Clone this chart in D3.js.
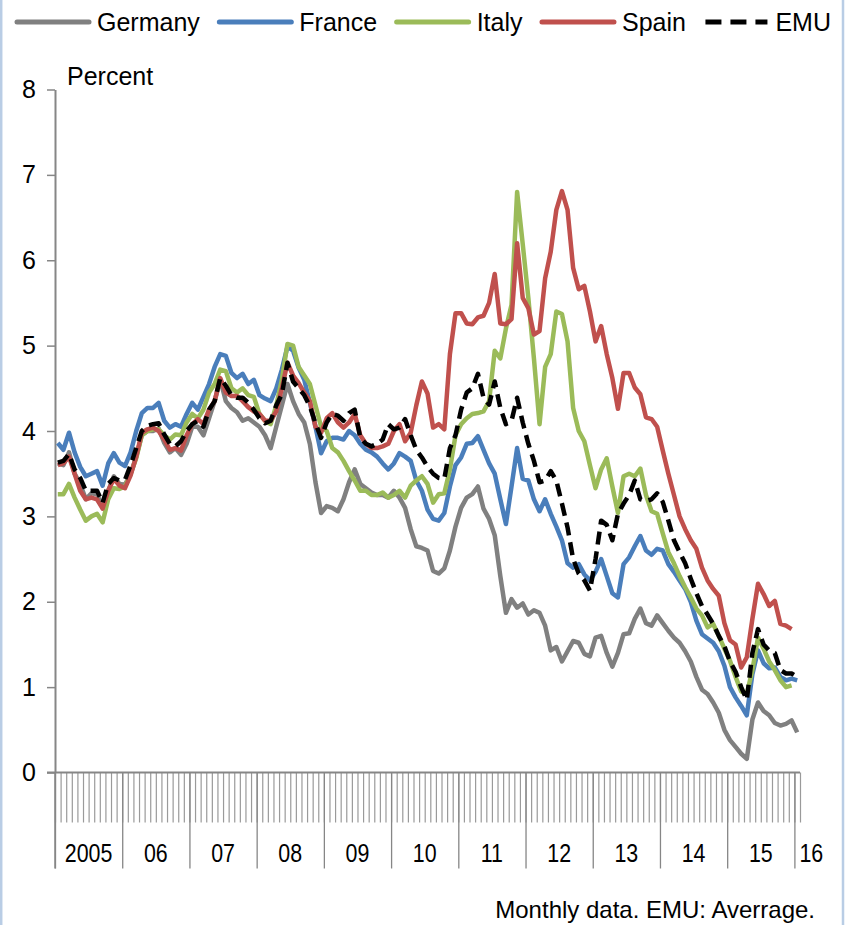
<!DOCTYPE html>
<html lang="en">
<head>
<meta charset="utf-8">
<title>Government bond yields</title>
<style>
  body { margin: 0; background: #ffffff; }
  svg text { font-family: "Liberation Sans", Arial, sans-serif; fill: #000; }
</style>
</head>
<body>
<div id="chart"></div>
<script src="https://d3js.org/d3.v7.min.js"></script>
<script>
var width = 850,
    height = 925;

// category axis: years and how many monthly slots each has
var years = ["2005", "06", "07", "08", "09", "10", "11", "12", "13", "14", "15", "16"];
var yearMonths = [12, 12, 12, 12, 12, 12, 12, 12, 12, 12, 12, 1];
var yTicks = [0, 1, 2, 3, 4, 5, 6, 7, 8];

// monthly values, Jan 2005 onwards
var germany = [
  3.62, 3.6, 3.75, 3.5, 3.38, 3.2, 3.27, 3.26, 3.1, 3.3, 3.47, 3.38,
  3.37, 3.5, 3.7, 3.95, 4.0, 4.0, 4.03, 3.86, 3.75, 3.8, 3.72, 3.85,
  4.05, 4.05, 3.95, 4.15, 4.35, 4.6, 4.35, 4.27, 4.22, 4.12, 4.15, 4.1,
  4.05, 3.95, 3.8, 4.05, 4.3, 4.55, 4.35, 4.2, 4.1, 3.85, 3.4, 3.04,
  3.12, 3.1, 3.06, 3.2, 3.4, 3.55, 3.38, 3.33, 3.28, 3.25, 3.25, 3.22,
  3.3, 3.22, 3.1, 2.85, 2.65, 2.63, 2.6, 2.36, 2.33, 2.39, 2.6, 2.88,
  3.1, 3.22, 3.26, 3.35, 3.09, 2.97, 2.78, 2.3, 1.87, 2.03, 1.93, 1.98,
  1.85, 1.9, 1.87, 1.72, 1.43, 1.47, 1.3, 1.42, 1.54, 1.52, 1.39, 1.36,
  1.58, 1.6, 1.4, 1.24, 1.4, 1.62, 1.63, 1.8, 1.92, 1.75, 1.72, 1.84,
  1.75, 1.66, 1.58, 1.52, 1.42, 1.3, 1.12, 0.97, 0.92, 0.82, 0.7, 0.5,
  0.38, 0.3, 0.22, 0.16, 0.62, 0.82, 0.72, 0.67, 0.58, 0.55, 0.57, 0.61,
  0.47
];
var france = [
  3.86, 3.78, 3.98, 3.75, 3.58, 3.47, 3.5, 3.53, 3.36, 3.62, 3.74, 3.63,
  3.59, 3.75, 4.0, 4.21, 4.27, 4.27, 4.33, 4.12, 4.04, 4.08, 4.05, 4.2,
  4.33, 4.25, 4.4, 4.55, 4.75, 4.9, 4.88, 4.68, 4.62, 4.67, 4.55, 4.6,
  4.42, 4.38, 4.35, 4.5, 4.72, 4.99, 4.94, 4.74, 4.6, 4.33, 4.05, 3.74,
  3.88, 3.92, 3.92, 3.9, 4.0, 3.95, 3.85, 3.78, 3.75, 3.7, 3.62, 3.55,
  3.62, 3.74, 3.7, 3.65, 3.42, 3.3, 3.08, 2.97, 2.95, 3.04, 3.35, 3.6,
  3.69, 3.85, 3.86, 3.94, 3.78, 3.62, 3.5, 3.2, 2.91, 3.35, 3.8, 3.44,
  3.42, 3.2, 3.06, 3.2, 3.03, 2.88, 2.72, 2.45, 2.4, 2.44, 2.32, 2.25,
  2.35, 2.5, 2.3, 2.1, 2.05, 2.44, 2.52, 2.65, 2.77, 2.6, 2.55, 2.62,
  2.6, 2.44, 2.35, 2.25, 2.15, 2.0, 1.78, 1.62, 1.57, 1.52, 1.42, 1.25,
  1.0, 0.88, 0.78, 0.67, 1.15, 1.43, 1.28, 1.22, 1.23, 1.12, 1.08, 1.1,
  1.08
];
var italy = [
  3.26, 3.26, 3.38, 3.22, 3.08, 2.95, 3.0, 3.03, 2.93, 3.2, 3.33, 3.32,
  3.35, 3.5, 3.68, 3.95, 4.0, 4.02, 4.02, 3.95, 3.9, 3.96, 3.95, 4.1,
  4.2, 4.15, 4.25, 4.45, 4.55, 4.72, 4.7, 4.5, 4.45, 4.5, 4.42, 4.4,
  4.2, 4.12, 4.08, 4.3, 4.6, 5.02, 5.0, 4.75, 4.65, 4.55, 4.3, 4.05,
  4.0, 3.8, 3.75, 3.65, 3.53, 3.42, 3.3, 3.3, 3.25, 3.25, 3.28, 3.22,
  3.25, 3.3, 3.22, 3.36, 3.42, 3.47, 3.38, 3.16, 3.26, 3.27, 3.55, 3.95,
  4.08, 4.15, 4.2, 4.21, 4.23, 4.35, 4.94, 4.85, 5.2, 5.48, 6.8, 6.19,
  5.56, 4.85, 4.08, 4.75, 4.9, 5.4, 5.37, 5.05, 4.27, 4.0, 3.88, 3.6,
  3.33, 3.55, 3.68, 3.35, 3.04, 3.47, 3.5, 3.47, 3.56, 3.25, 3.06, 3.03,
  2.8, 2.58, 2.45, 2.3, 2.17, 2.05, 1.92, 1.84, 1.7, 1.74, 1.6, 1.45,
  1.31, 1.12, 0.95, 0.92, 1.2, 1.58, 1.45, 1.3, 1.2, 1.08, 1.0, 1.02
];
var spain = [
  3.6, 3.62, 3.7, 3.5, 3.3, 3.2, 3.22, 3.2, 3.09, 3.3, 3.44, 3.36,
  3.33, 3.48, 3.7, 3.98, 4.02, 4.04, 4.0, 3.9, 3.78, 3.8, 3.77, 3.95,
  4.08, 4.14, 4.08, 4.25, 4.35, 4.62, 4.45, 4.41, 4.41, 4.35, 4.28, 4.23,
  4.2, 4.12, 4.12, 4.23, 4.5, 4.8, 4.65, 4.56, 4.45, 4.35, 4.05, 3.98,
  4.15, 4.21, 4.1, 4.04, 4.1, 4.2, 3.95, 3.85, 3.8, 3.8, 3.82, 3.85,
  4.0, 4.08, 3.88, 3.98, 4.3, 4.58, 4.44, 4.04, 4.08, 4.02, 4.9, 5.38,
  5.38, 5.26, 5.25, 5.33, 5.35, 5.5, 5.84, 5.26, 5.25, 5.31, 6.2, 5.56,
  5.44, 5.13, 5.17, 5.79, 6.1, 6.59, 6.81, 6.59, 5.91, 5.66, 5.7, 5.4,
  5.05, 5.23, 4.9, 4.62, 4.26, 4.68, 4.68, 4.51, 4.43, 4.16, 4.14, 4.05,
  3.77, 3.5, 3.25, 3.0, 2.85, 2.72, 2.62, 2.4, 2.25, 2.15, 2.07, 1.75,
  1.55, 1.5, 1.23, 1.35, 1.8, 2.21, 2.09, 1.95, 2.01, 1.74, 1.72, 1.68
];
var emu = [
  3.63, 3.65, 3.73, 3.55, 3.45, 3.3, 3.3, 3.3, 3.16, 3.38, 3.45, 3.42,
  3.43, 3.6, 3.8, 4.0, 4.06, 4.08, 4.09, 3.96, 3.85, 3.82, 3.88, 4.0,
  4.08, 4.12, 4.05, 4.25, 4.35, 4.62, 4.53, 4.42, 4.39, 4.39, 4.33, 4.25,
  4.15, 4.09, 4.12, 4.3, 4.43, 4.8, 4.58, 4.5, 4.42, 4.29, 4.09, 3.92,
  4.1, 4.2, 4.18, 4.12, 4.21, 4.25, 3.92, 3.85, 3.82, 3.85, 3.9, 4.08,
  4.02, 4.04, 4.14, 3.95, 3.78, 3.69, 3.58, 3.5, 3.45, 3.44, 3.8, 3.95,
  4.25, 4.45, 4.5, 4.67, 4.39, 4.31, 4.58, 4.27, 4.08, 4.12, 4.39, 4.1,
  3.85, 3.65, 3.4, 3.42, 3.53, 3.42, 3.15, 2.87, 2.5, 2.33, 2.25, 2.13,
  2.5, 2.95, 2.9, 2.72, 3.03, 3.15, 3.25, 3.42, 3.2, 3.18, 3.2, 3.27,
  3.17, 2.95, 2.72, 2.58, 2.45, 2.27, 2.1, 1.95, 1.85, 1.74, 1.6, 1.48,
  1.3, 1.18, 1.0, 0.85, 1.4, 1.68, 1.5, 1.43, 1.4, 1.2, 1.16, 1.16,
  1.12
];

var seriesNames = ["Germany", "France", "Italy", "Spain", "EMU"];
var seriesValues = [germany, france, italy, spain, emu];
var seriesColors = ["#808080", "#4a7ebb", "#9bbb59", "#c0504d", "#000000"];

var nSlots = d3.sum(yearMonths);
var yearStarts = d3.cumsum([0].concat(yearMonths.slice(0, -1)));

var svg = d3.select("#chart")
    .append("svg")
    .attr("width", width)
    .attr("height", height);

// thin frame edges of the chart box
svg.selectAll(".frame")
    .data([1.2, 843])
    .enter().append("line")
    .attr("x1", function(d) { return d; })
    .attr("x2", function(d) { return d; })
    .attr("y1", 0).attr("y2", height)
    .attr("stroke", "#b9cde5")
    .attr("stroke-width", 2.5);

var x = d3.scaleLinear().domain([0, nSlots]).range([55, 800]);
var y = d3.scaleLinear().domain([0, 8]).range([772.5, 89.5]);

var axisColor = "#868686";

// month ticks
var minorAxis = svg.append("g")
    .attr("transform", "translate(0," + y(0) + ")")
    .call(d3.axisBottom(x).tickValues(d3.range(nSlots + 1)).tickSize(50).tickSizeOuter(0).tickFormat(""));
minorAxis.select(".domain").remove();
minorAxis.selectAll("line").attr("stroke", "#9a9a9a").attr("stroke-width", 1.2);

// year separators
var yearAxis = svg.append("g")
    .attr("transform", "translate(0," + y(0) + ")")
    .call(d3.axisBottom(x).tickValues(yearStarts).tickSize(96).tickSizeOuter(0).tickFormat(""));
yearAxis.select(".domain").remove();
yearAxis.selectAll("line").attr("stroke", axisColor).attr("stroke-width", 1.3);

// year labels, set in a condensed face like the original
svg.selectAll(".year-label")
    .data(years)
    .enter().append("text")
    .attr("class", "year-label")
    .attr("transform", function(d, i) {
      var px = yearMonths[i] < 4 ? x(yearStarts[i]) + 5 : x(yearStarts[i] + yearMonths[i] / 2);
      return "translate(" + px + ",862) scale(0.84,1)";
    })
    .attr("text-anchor", function(d, i) { return yearMonths[i] < 4 ? "start" : "middle"; })
    .style("font-size", "25.5px")
    .text(function(d) { return d; });

// x axis line
svg.append("line")
    .attr("x1", 47).attr("x2", x(nSlots))
    .attr("y1", y(0)).attr("y2", y(0))
    .attr("stroke", axisColor).attr("stroke-width", 2);

// y axis
var yAxis = svg.append("g")
    .attr("transform", "translate(55,0)")
    .call(d3.axisLeft(y).tickValues(yTicks).tickSize(8).tickSizeOuter(0).tickPadding(11));
yAxis.select(".domain").attr("stroke", axisColor).attr("stroke-width", 2);
yAxis.selectAll(".tick line").attr("stroke", axisColor).attr("stroke-width", 1.5);
yAxis.selectAll(".tick text")
    .style("font-size", "25px")
    .style("font-family", "'Liberation Sans', Arial, sans-serif")
    .attr("fill", "#000");

// y axis continues down through the category labels
svg.append("line")
    .attr("x1", 55).attr("x2", 55)
    .attr("y1", y(0)).attr("y2", y(0) + 96)
    .attr("stroke", axisColor).attr("stroke-width", 1.5);

svg.append("text")
    .attr("x", 67).attr("y", 85)
    .style("font-size", "25px")
    .text("Percent");

var line = d3.line()
    .x(function(d, i) { return x(i + 0.5); })
    .y(function(d) { return y(d); });

svg.selectAll(".series")
    .data(seriesValues)
    .enter().append("path")
    .attr("class", "series")
    .attr("d", line)
    .attr("fill", "none")
    .attr("stroke", function(d, i) { return seriesColors[i]; })
    .attr("stroke-width", 4.5)
    .attr("stroke-linejoin", "round")
    .attr("stroke-dasharray", function(d, i) { return seriesNames[i] == "EMU" ? "13,7" : null; });

// legend
var legend = svg.append("g").attr("class", "legend");
var lx = 17;
for (var i = 0; i < seriesNames.length; i++) {
  var isDash = seriesNames[i] == "EMU";
  legend.append("line")
      .attr("x1", lx).attr("x2", lx + (isDash ? 62 : 72))
      .attr("y1", 22).attr("y2", 22)
      .attr("stroke", seriesColors[i])
      .attr("stroke-width", 5)
      .attr("stroke-linecap", isDash ? "butt" : "round")
      .attr("stroke-dasharray", isDash ? "16,9" : null);
  var t = legend.append("text")
      .attr("x", lx + (isDash ? 70 : 80))
      .attr("y", 31)
      .style("font-size", "25px")
      .text(seriesNames[i]);
  lx = lx + (isDash ? 70 : 80) + t.node().getComputedTextLength() + 19.5;
}

svg.append("text")
    .attr("x", 815).attr("y", 918)
    .attr("text-anchor", "end")
    .style("font-size", "24px")
    .text("Monthly data. EMU: Averrage.");
</script>
</body>
</html>
